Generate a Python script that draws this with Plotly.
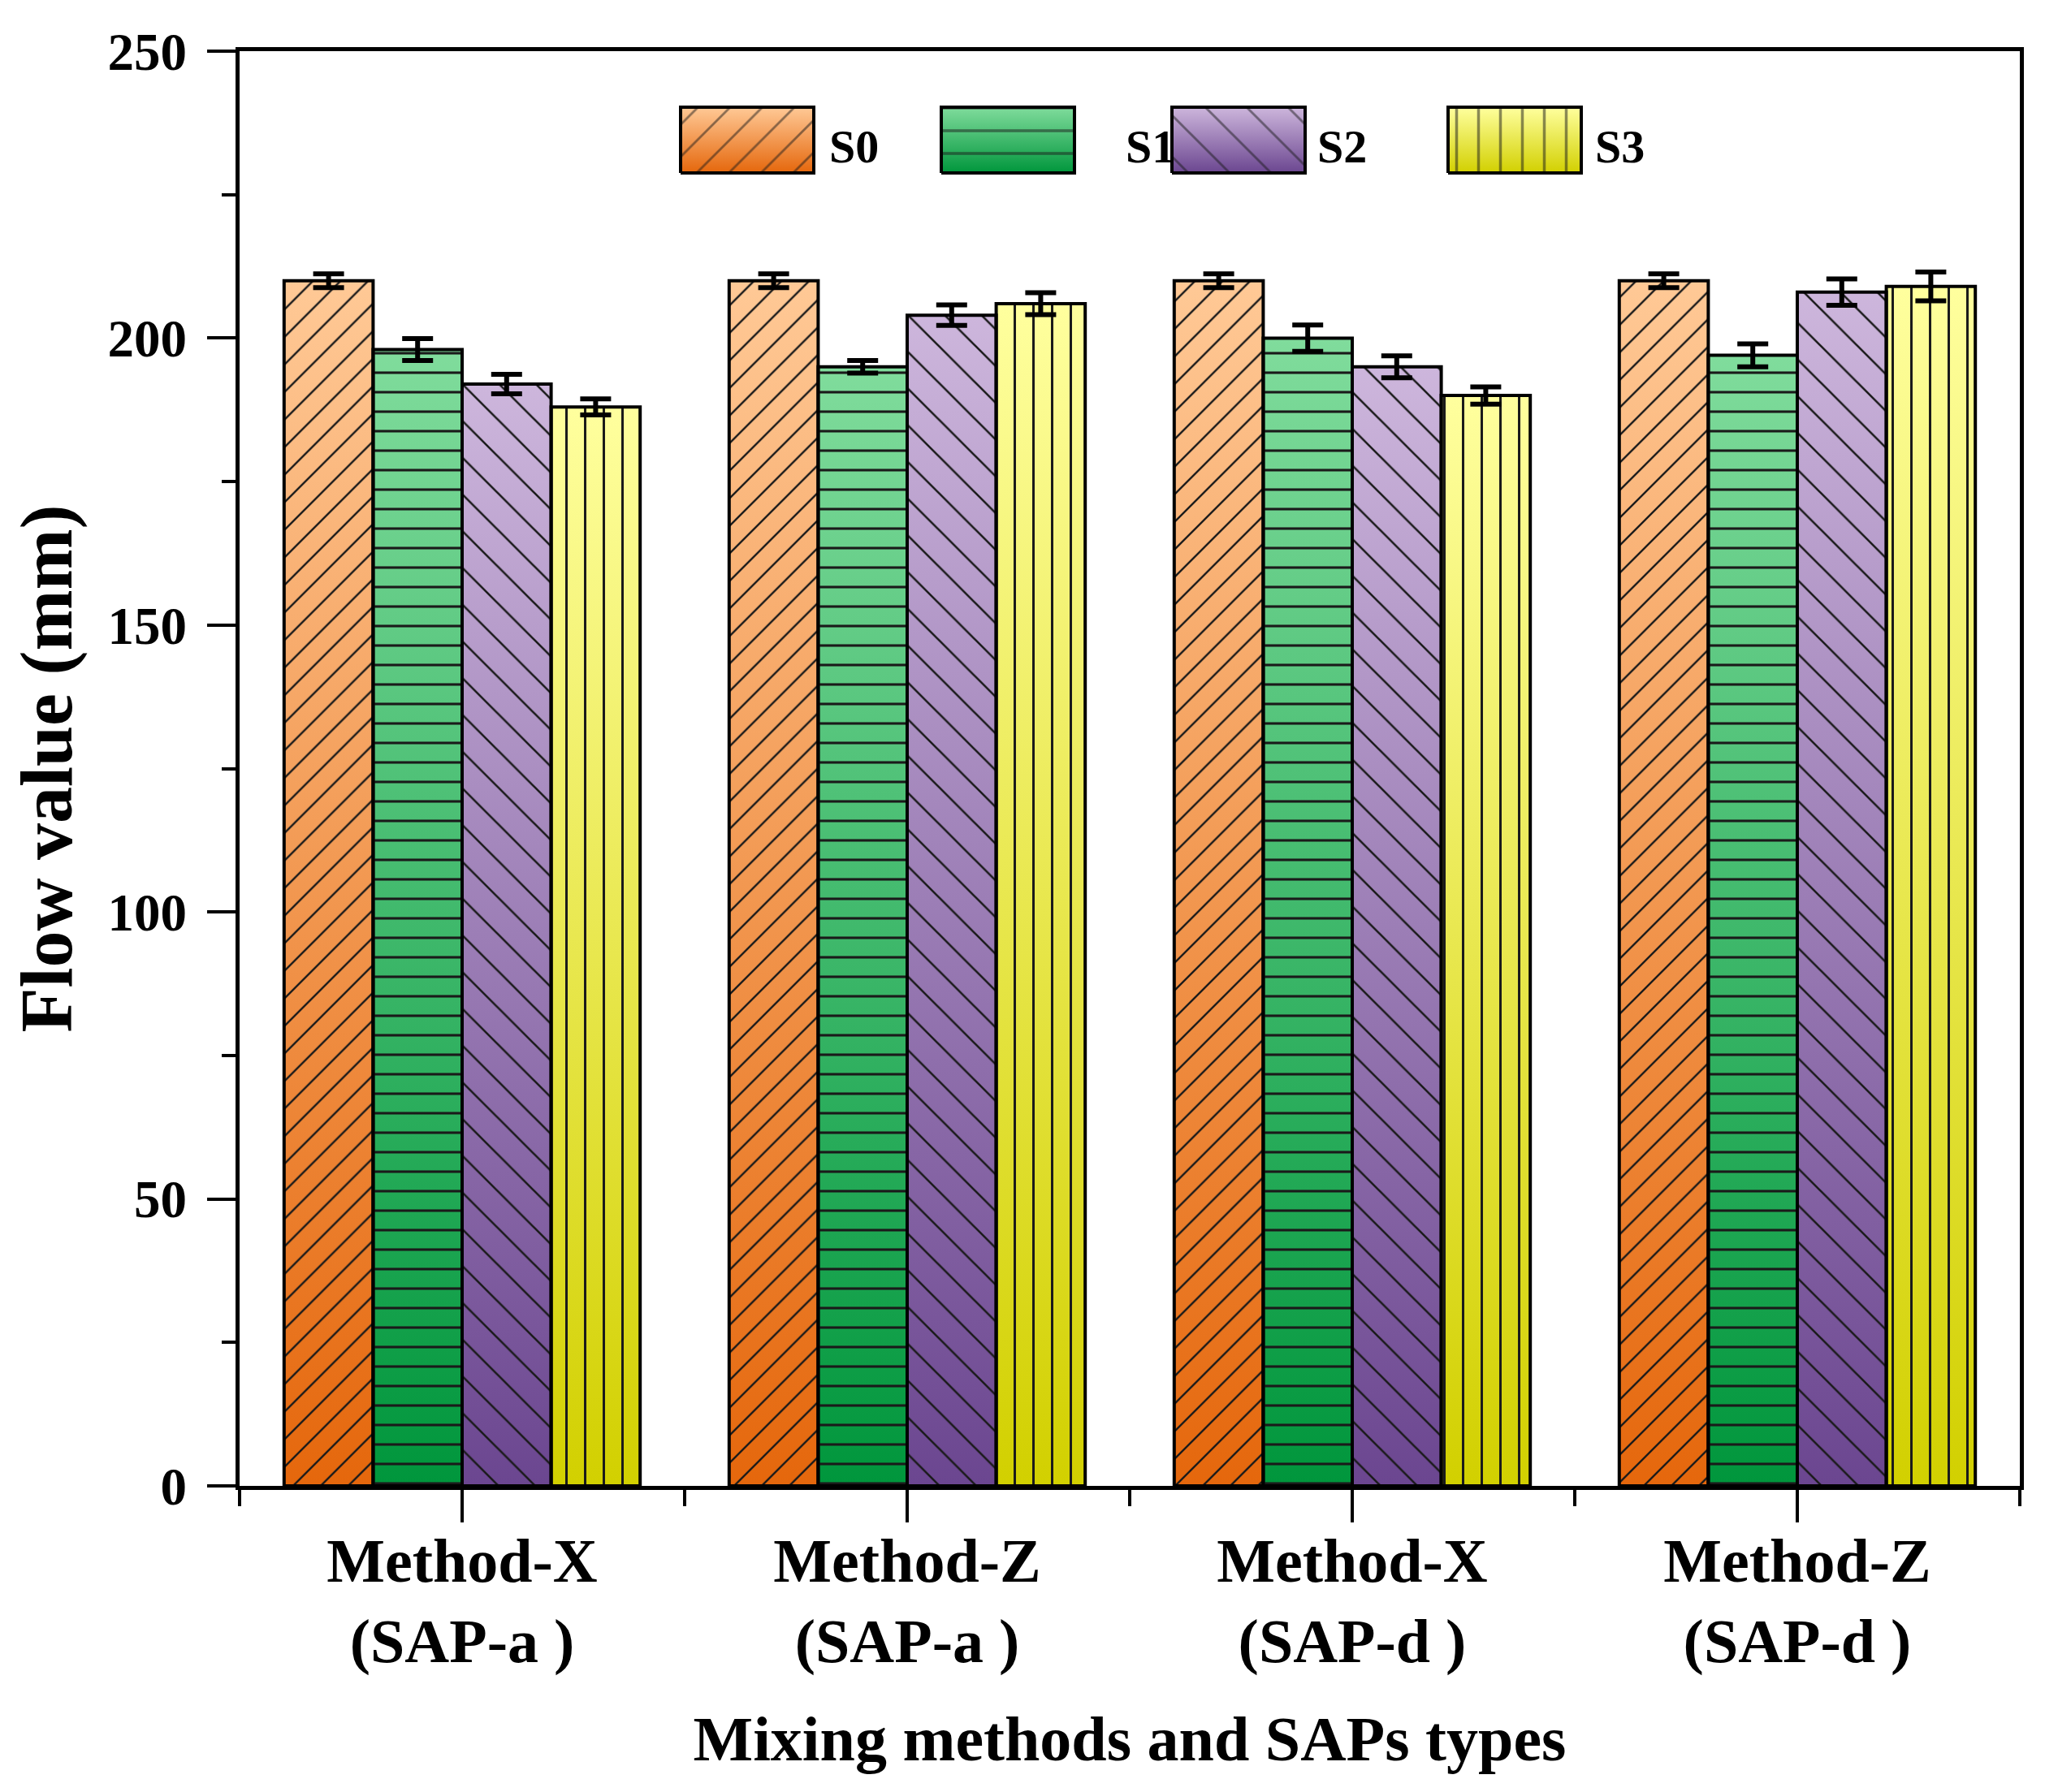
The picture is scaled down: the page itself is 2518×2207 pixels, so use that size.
import plotly.graph_objects as go

# ---------------- data ----------------
categories = ["Method-X<br>(SAP-a )", "Method-Z<br>(SAP-a )", "Method-X<br>(SAP-d )", "Method-Z<br>(SAP-d )"]
series_names = ["S0", "S1", "S2", "S3"]
s0_values = [210, 210, 210, 210]
s1_values = [198, 195, 200, 197]
s2_values = [192, 204, 195, 208]
s3_values = [188, 206, 190, 209]
s0_errors = [1.2, 1.2, 1.2, 1.2]
s1_errors = [1.9, 1.1, 2.3, 2.0]
s2_errors = [1.7, 1.8, 1.9, 2.3]
s3_errors = [1.4, 1.9, 1.5, 2.5]
y_ticks = [0, 50, 100, 150, 200, 250]

values = [s0_values, s1_values, s2_values, s3_values]
errors = [s0_errors, s1_errors, s2_errors, s3_errors]

# ---------------- styles ----------------
FONT = "Liberation Serif"
grad_colors = [  # (bottom, top)
    ("#E5670C", "#FFC996"),
    ("#00963C", "#80DC9C"),
    ("#6B4690", "#CDB6DC"),
    ("#D2D000", "#FFFF9E"),
]
patterns = [
    dict(shape="/", size=24, solidity=0.1),
    dict(shape="-", size=24, solidity=0.13),
    dict(shape="\\", size=32, solidity=0.08),
    dict(shape="|", size=23, solidity=0.13),
]
n_series = len(series_names)
group_width = 0.8
bar_w = group_width / n_series

# legend geometry (in page pixels, on a hidden helper axis)
leg_box_x = [830, 1151, 1435, 1775]
leg_box_w = 164
leg_box_y = (124, 205)
leg_text_x = [1043, 1408, 1644, 1986]
leg_text_y = 172

fig = go.Figure()

# gradient fills under bars (base axes)
for i in range(n_series):
    bottom, top = grad_colors[i]
    for j, v in enumerate(values[i]):
        c = j + (i - (n_series - 1) / 2) * bar_w
        xs = [c - bar_w / 2, c + bar_w / 2, c + bar_w / 2, c - bar_w / 2, c - bar_w / 2]
        ys = [0, 0, v, v, 0]
        fig.add_trace(go.Scatter(
            x=xs, y=ys, mode="none", fill="toself",
            fillgradient=dict(type="vertical", colorscale=[[0, bottom], [1, top]], start=0, stop=v),
            hoverinfo="skip", showlegend=False,
        ))

# hatched bars with outlines and error bars (overlay axes)
for i in range(n_series):
    p = patterns[i]
    fig.add_trace(go.Bar(
        name=series_names[i], x=list(range(len(categories))), y=values[i],
        xaxis="x2", yaxis="y2",
        marker=dict(
            color="rgba(0,0,0,0)",
            line=dict(color="black", width=4),
            pattern=dict(shape=p["shape"], size=p["size"], solidity=p["solidity"],
                         fgcolor="#1a1a1a", bgcolor="rgba(0,0,0,0)", fillmode="replace"),
        ),
        error_y=dict(type="data", array=errors[i], visible=True, color="black", thickness=6, width=19),
        showlegend=False,
    ))

# custom legend (hidden pixel axes)
for i in range(n_series):
    bottom, top = grad_colors[i]
    x0 = leg_box_x[i]
    x1 = x0 + leg_box_w
    y0, y1 = leg_box_y
    xs = [x0, x1, x1, x0, x0]
    ys = [y1, y1, y0, y0, y1]
    fig.add_trace(go.Scatter(
        x=xs, y=ys, xaxis="x3", yaxis="y3", mode="none", fill="toself",
        fillgradient=dict(type="vertical", colorscale=[[0, bottom], [1, top]], start=y1, stop=y0),
        hoverinfo="skip", showlegend=False,
    ))
    p = patterns[i]
    fig.add_trace(go.Scatter(
        x=xs, y=ys, xaxis="x3", yaxis="y3", mode="lines", fill="toself",
        line=dict(color="black", width=4),
        fillcolor="rgba(0,0,0,0)",
        fillpattern=dict(shape=p["shape"], size=p["size"] + 4, solidity=p["solidity"],
                         fgcolor="#1a1a1a", bgcolor="rgba(0,0,0,0)"),
        hoverinfo="skip", showlegend=False,
    ))
    fig.add_annotation(x=leg_text_x[i], y=leg_text_y, xref="x3", yref="y3",
                       text=series_names[i], showarrow=False,
                       font=dict(family=FONT, size=58, color="black", weight="bold"))

axis_common = dict(showgrid=False, zeroline=False, showline=True, linecolor="black",
                   linewidth=5, mirror=True, ticks="outside", tickcolor="black", tickwidth=4)

fig.update_layout(
    width=2518, height=2207,
    margin=dict(l=287, r=39, t=55, b=385, autoexpand=False),
    paper_bgcolor="white", plot_bgcolor="white",
    barmode="group", bargap=0.2, bargroupgap=0,
    showlegend=False,
    xaxis=dict(
        **axis_common,
        range=[-0.5, 3.5], tickmode="array", tickvals=list(range(len(categories))), ticktext=categories,
        ticklen=40, ticklabelstandoff=-18,
        tickfont=dict(family=FONT, size=76, color="black", weight="bold"),
        minor=dict(tickmode="array", tickvals=[-0.5, 0.5, 1.5, 2.5, 3.5], ticks="outside",
                   ticklen=20, tickwidth=4, tickcolor="black"),
        title=dict(text="Mixing methods and SAPs types", standoff=52,
                   font=dict(family=FONT, size=78, color="black", weight="bold")),
    ),
    yaxis=dict(
        **axis_common,
        range=[0, 250], tickmode="array", tickvals=y_ticks, ticklen=35, ticklabelstandoff=12,
        tickfont=dict(family=FONT, size=65, color="black", weight="bold"),
        minor=dict(tick0=0, dtick=25, ticks="outside", ticklen=17, tickwidth=4, tickcolor="black"),
        title=dict(text="Flow value (mm)", standoff=20,
                   font=dict(family=FONT, size=90, color="black", weight="bold")),
    ),
    xaxis2=dict(overlaying="x", anchor="y2", range=[-0.5, 3.5], visible=False),
    yaxis2=dict(overlaying="y", anchor="x2", range=[0, 250], visible=False),
    xaxis3=dict(overlaying="x", anchor="y3", range=[287, 2479], visible=False),
    yaxis3=dict(overlaying="y", anchor="x3", range=[1822, 55], visible=False),
)

fig.write_html("out.html")
